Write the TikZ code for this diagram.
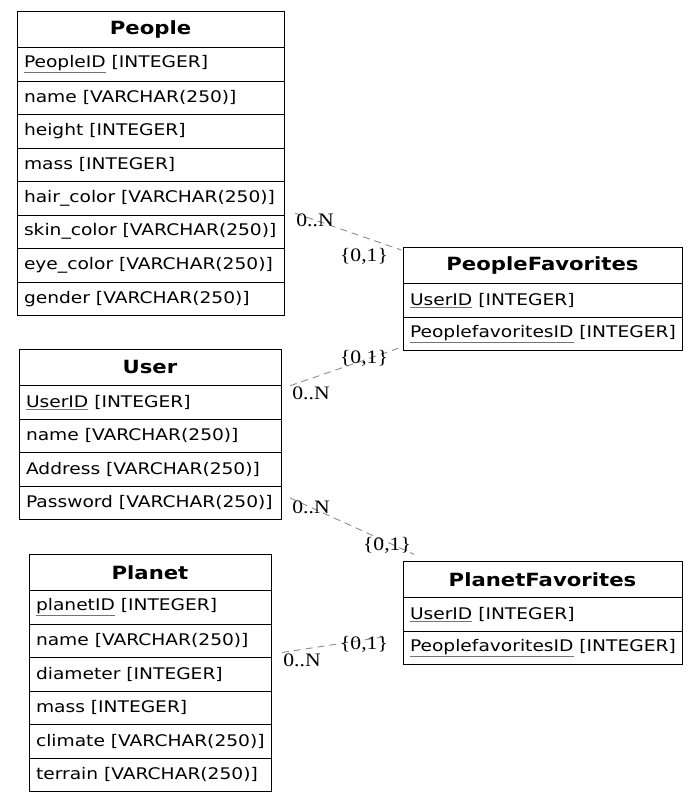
\documentclass[tikz,border=0pt]{standalone}
\usepackage{fontspec}
\usetikzlibrary{fit}
\newfontfamily\tabfont{DejaVu Sans}[FakeStretch=1.165]
\newfontfamily\headfont{DejaVu Sans}[FakeStretch=1.165]
\newfontfamily\lblfont{Liberation Serif}[FakeStretch=1.14]
\newcommand\pk[1]{{\color{black!55}\underline{\color{black}#1}}}
\definecolor{relgray}{RGB}{140,140,140}
\tikzset{
  tabhead/.style={draw, line width=1pt, anchor=north west, minimum height=36.5pt,
    inner sep=0pt, outer sep=0pt, font=\headfont\fontsize{18.2}{20}\selectfont\bfseries},
  tabrow/.style={draw, line width=1pt, anchor=north west, minimum height=33.5pt,
    minimum width=#1, inner xsep=7pt, inner ysep=0pt, outer sep=0pt,
    font=\tabfont\fontsize{16}{18}\selectfont,
    execute at begin node={\hbox to \dimexpr#1-14pt\relax\bgroup},
    execute at end node={\hss\egroup}},
  tabbox/.style={inner sep=0pt, outer sep=0pt},
  rel/.style={draw=relgray, line width=0.9pt, dash pattern=on 7pt off 5pt},
  card/.style={font=\lblfont\fontsize{19}{21}\selectfont, inner sep=0pt}
}
\begin{document}
\begin{tikzpicture}[x=1pt,y=-1pt]
\useasboundingbox (0,0) rectangle (697,803);

% People
\node[tabhead, minimum width=267pt] (peo-h) at (17,11) {People};
\node[tabrow=267pt] (peo-1) at (peo-h.south west) {\pk{PeopleID} [INTEGER]};
\node[tabrow=267pt] (peo-2) at (peo-1.south west) {name [VARCHAR(250)]};
\node[tabrow=267pt] (peo-3) at (peo-2.south west) {height [INTEGER]};
\node[tabrow=267pt] (peo-4) at (peo-3.south west) {mass [INTEGER]};
\node[tabrow=267pt] (peo-5) at (peo-4.south west) {hair\_color [VARCHAR(250)]};
\node[tabrow=267pt] (peo-6) at (peo-5.south west) {skin\_color [VARCHAR(250)]};
\node[tabrow=267pt] (peo-7) at (peo-6.south west) {eye\_color [VARCHAR(250)]};
\node[tabrow=267pt] (peo-8) at (peo-7.south west) {gender [VARCHAR(250)]};
\node[tabbox, fit=(peo-h)(peo-8)] (people) {};

% User
\node[tabhead, minimum width=262pt] (usr-h) at (19,349) {User};
\node[tabrow=262pt] (usr-1) at (usr-h.south west) {\pk{UserID} [INTEGER]};
\node[tabrow=262pt] (usr-2) at (usr-1.south west) {name [VARCHAR(250)]};
\node[tabrow=262pt] (usr-3) at (usr-2.south west) {Address [VARCHAR(250)]};
\node[tabrow=262pt] (usr-4) at (usr-3.south west) {Password [VARCHAR(250)]};
\node[tabbox, fit=(usr-h)(usr-4)] (user) {};

% Planet
\node[tabhead, minimum width=242pt] (pla-h) at (29,554) {Planet};
\node[tabrow=242pt] (pla-1) at (pla-h.south west) {\pk{planetID} [INTEGER]};
\node[tabrow=242pt] (pla-2) at (pla-1.south west) {name [VARCHAR(250)]};
\node[tabrow=242pt] (pla-3) at (pla-2.south west) {diameter [INTEGER]};
\node[tabrow=242pt] (pla-4) at (pla-3.south west) {mass [INTEGER]};
\node[tabrow=242pt] (pla-5) at (pla-4.south west) {climate [VARCHAR(250)]};
\node[tabrow=242pt] (pla-6) at (pla-5.south west) {terrain [VARCHAR(250)]};
\node[tabbox, fit=(pla-h)(pla-6)] (planet) {};

% PeopleFavorites
\node[tabhead, minimum width=279pt] (pf-h) at (403,247) {PeopleFavorites};
\node[tabrow=279pt] (pf-1) at (pf-h.south west) {\pk{UserID} [INTEGER]};
\node[tabrow=279pt] (pf-2) at (pf-1.south west) {\pk{PeoplefavoritesID} [INTEGER]};
\node[tabbox, fit=(pf-h)(pf-2)] (pfav) {};

% PlanetFavorites
\node[tabhead, minimum width=279pt] (plf-h) at (403,561) {PlanetFavorites};
\node[tabrow=279pt] (plf-1) at (plf-h.south west) {\pk{UserID} [INTEGER]};
\node[tabrow=279pt] (plf-2) at (plf-1.south west) {\pk{PeoplefavoritesID} [INTEGER]};
\node[tabbox, fit=(plf-h)(plf-2)] (plfav) {};

% Relationships
\draw[rel, shorten <=11.6pt, shorten >=2pt] (people) -- (pfav);
\draw[rel, shorten <=9.5pt, shorten >=5pt] (user) -- (pfav);
\draw[rel, shorten <=9.9pt, shorten >=16pt] (user) -- (plfav);
\draw[rel, shorten <=11pt, shorten >=20pt] (planet) -- (plfav);

% Cardinalities
\node[card] (c1a) at (315,220) {0..N};
\node[card] (c1b) at (364,256) {\{0,1\}};
\node[card] (c2a) at (364,358) {\{0,1\}};
\node[card] (c2b) at (311,393) {0..N};
\node[card] (c3a) at (311,507) {0..N};
\node[card] (c3b) at (387,545) {\{0,1\}};
\node[card] (c4a) at (364,644) {\{0,1\}};
\node[card] (c4b) at (302,660) {0..N};
\end{tikzpicture}
\end{document}
